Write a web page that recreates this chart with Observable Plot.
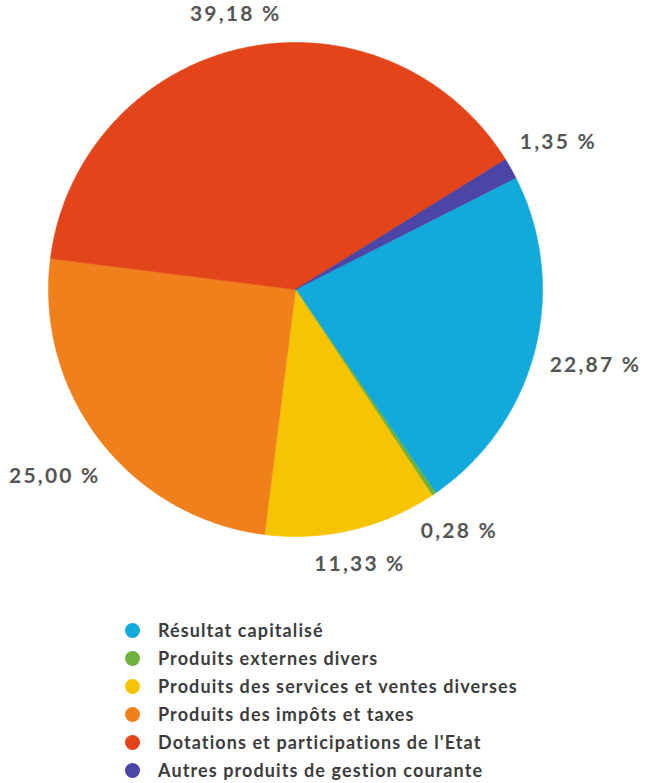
<!DOCTYPE html>
<html>
<head>
<meta charset="utf-8">
<script src="https://cdn.jsdelivr.net/npm/d3@7"></script>
<script src="https://cdn.jsdelivr.net/npm/@observablehq/plot@0.6"></script>
<style>
  html, body { margin: 0; padding: 0; background: #fff; }
  body { width: 667px; font-family: Lato, "Open Sans", sans-serif; }
  #chart svg text { letter-spacing: 2.2px; }
  #legend { margin-top: 16px; padding-left: 125px; }
  .row { display: flex; align-items: center; height: 28px; font-size: 18px; font-weight: 700; color: #3c3c3c; letter-spacing: 1.1px; white-space: nowrap; }
  .sw { width: 15px; height: 15px; border-radius: 50%; margin-right: 18px; flex: none; }
</style>
</head>
<body>
<div id="chart"></div>
<div id="legend"></div>
<script>
const categories = [
  "Résultat capitalisé",
  "Produits externes divers",
  "Produits des services et ventes diverses",
  "Produits des impôts et taxes",
  "Dotations et participations de l'Etat",
  "Autres produits de gestion courante"
];
const values = [22.87, 0.28, 11.33, 25.00, 39.18, 1.35];
const valueLabels = ["22,87 %", "0,28 %", "11,33 %", "25,00 %", "39,18 %", "1,35 %"];
const colors = ["#12aadc", "#6db23f", "#f6c400", "#f0801c", "#e3441a", "#4d45a6"];
const startDeg = 63.1;

const rows = categories.map((c, i) => ({category: c, value: values[i], label: valueLabels[i]}));
const arcs = d3.pie().sort(null).value(d => d.value)
  .startAngle(startDeg * Math.PI / 180)
  .endAngle((startDeg + 360) * Math.PI / 180)(rows);

// polygon outlines for each slice (unit circle coords, y up)
const pts = [];
arcs.forEach(a => {
  const c = a.data.category;
  pts.push({category: c, x: 0, y: 0});
  const n = Math.max(2, Math.ceil((a.endAngle - a.startAngle) / (Math.PI / 360)));
  for (let k = 0; k <= n; k++) {
    const t = a.startAngle + (a.endAngle - a.startAngle) * k / n;
    pts.push({category: c, x: Math.sin(t), y: Math.cos(t)});
  }
  pts.push({category: c, x: 0, y: 0});
});

const R = 247, cx = 295, cy = 289;
const labelFont = 21;
// outside-end labels: the label box sits just outside the rim along the slice's mid-angle
const labelPts = arcs.map(a => {
  const m = (a.startAngle + a.endAngle) / 2;
  const s = Math.sin(m), c = Math.cos(m);
  const w = a.data.label.length * 13.3, h = 20;
  const d = 1.06 + (Math.abs(s) * w / 2 + Math.abs(c) * h / 2) / R;
  return {text: a.data.label, x: d * s, y: d * c};
});

const chart = Plot.plot({
  width: 667,
  height: 600,
  margin: 0,
  x: {domain: [-1, 1], range: [cx - R, cx + R], axis: null},
  y: {domain: [-1, 1], range: [cy + R, cy - R], axis: null},
  color: {domain: categories, range: colors},
  marks: [
    Plot.line(pts, {x: "x", y: "y", z: "category", fill: "category", stroke: "category", strokeWidth: 0.6, curve: "linear"}),
    Plot.text(labelPts, {x: "x", y: "y", text: "text", fontSize: labelFont, fontWeight: 700, fill: "#555", fontFamily: "Lato, sans-serif"})
  ]
});
document.getElementById("chart").appendChild(chart);

const legend = document.getElementById("legend");
categories.forEach((c, i) => {
  const r = document.createElement("div");
  r.className = "row";
  const s = document.createElement("span");
  s.className = "sw";
  s.style.background = colors[i];
  const t = document.createElement("span");
  t.textContent = c;
  r.appendChild(s); r.appendChild(t);
  legend.appendChild(r);
});
</script>
</body>
</html>
